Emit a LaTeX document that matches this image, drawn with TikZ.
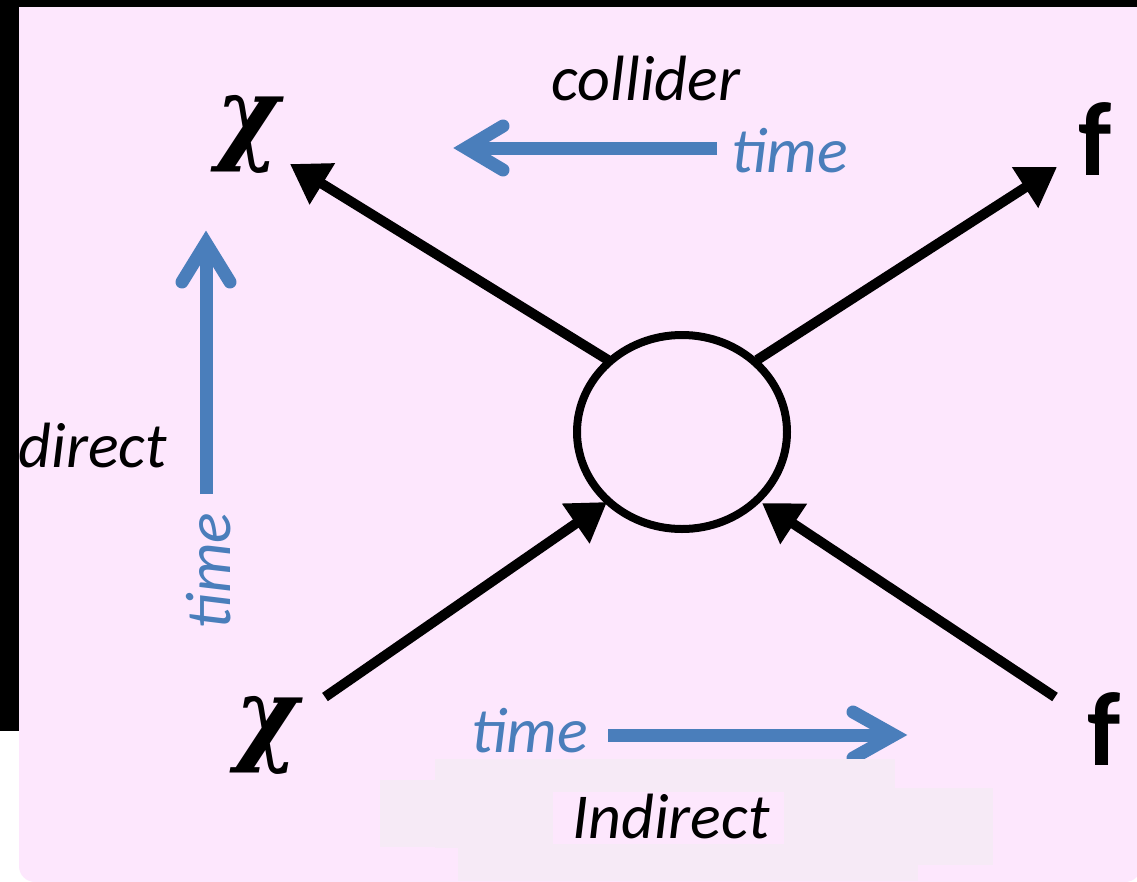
\documentclass[tikz,border=0pt]{standalone}
\usepackage{fontspec}
\setmainfont{Carlito}
\newfontfamily\chifont{DejaVu Serif}
\usepackage{graphicx}
\usetikzlibrary{arrows.meta,shapes.geometric}
\definecolor{pinkbg}{RGB}{253,231,253}
\definecolor{patchc}{RGB}{246,234,246}
\definecolor{timeblue}{RGB}{74,126,187}
\tikzset{
  lbl/.style={inner sep=0pt, font=\fontsize{64}{70}\selectfont\itshape},
  timelbl/.style={lbl, text=timeblue},
  chi/.style={inner sep=0pt},
  fermion/.style={inner sep=0pt, font=\fontsize{105}{110}\selectfont\bfseries},
  legline/.style={line width=10pt, -{Triangle[length=38pt,width=46pt]}},
  shaft/.style={draw=timeblue, line width=13pt},
  chev/.style={draw=timeblue, line width=13pt, line cap=round, line join=miter}
}
\newcommand{\bigchi}{\resizebox*{63pt}{78pt}{\chifont\bfseries\itshape χ}}
\begin{document}
\begin{tikzpicture}[x=1pt,y=-1pt]
\useasboundingbox (0,0) rectangle (1137,881);
\clip (0,0) rectangle (1137,881);
% background
\fill[white] (0,0) rectangle (1137,881);
\fill[black] (0,0) rectangle (1137,731);
\fill[pinkbg] (19,7) -- (19,866) arc[start angle=180,end angle=90,radius=16]
  -- (1125,882) arc[start angle=90,end angle=0,radius=16] -- (1141,7) -- cycle;

% central blob
\node[draw, ellipse, line width=8pt, minimum width=210pt, minimum height=194pt, inner sep=0pt] (blob) at (682,432) {};

% legs
\coordinate (ulS) at (608,360);  \coordinate (ulT) at (290,164);
\coordinate (urS) at (757,360);  \coordinate (urT) at (1057,167);
\coordinate (llS) at (325,697);  \coordinate (llT) at (607,502);
\coordinate (lrS) at (1055,697); \coordinate (lrT) at (762,503);
\draw[legline] (ulS) -- (ulT);
\draw[legline] (urS) -- (urT);
\draw[legline] (llS) -- (llT);
\draw[legline] (lrS) -- (lrT);

% particle labels
\node[chi, anchor=north west] (chiT) at (216,95) {\bigchi};
\node[chi, anchor=north west] (chiB) at (235,696) {\bigchi};
\node[fermion, anchor=base] (fT) at (1095,175) {f};
\node[fermion, anchor=base] (fB) at (1104,765) {f};

% collider time arrow
\coordinate (cS) at (717,148); \coordinate (cV) at (466,148);
\coordinate (cW1) at (503,126); \coordinate (cW2) at (503,170);
\draw[shaft] (cS) -- (cV);
\draw[chev] (cW1) -- (cV) -- (cW2);
\node[lbl, anchor=base] (collider) at (646,100) {collider};
\node[timelbl, anchor=base west] (tC) at (731,172) {time};

% direct time arrow
\coordinate (dS) at (206,494); \coordinate (dV) at (206,243);
\coordinate (dW1) at (182,282); \coordinate (dW2) at (230,282);
\draw[shaft] (dS) -- (dV);
\draw[chev] (dW1) -- (dV) -- (dW2);
\node[timelbl, anchor=base, rotate=90] (tD) at (230,571) {time};
\node[lbl, anchor=base east] (direct) at (167,467) {direct};

% indirect time arrow
\coordinate (iS) at (608,735); \coordinate (iV) at (894,735);
\coordinate (iW1) at (853,712); \coordinate (iW2) at (853,758);
\draw[shaft] (iS) -- (iV);
\draw[chev] (iW1) -- (iV) -- (iW2);
\node[timelbl, anchor=base west] (tI) at (471,752) {time};

% faint patches
\fill[patchc] (435,759) rectangle (895,848);
\fill[patchc] (380,780) rectangle (435,847);
\fill[patchc] (895,788) rectangle (993,865);
\fill[patchc] (458,848) rectangle (918,881);
\fill[pinkbg] (553,792) rectangle (784,844);
\node[lbl, anchor=base] (indirect) at (671,838) {Indirect};
\end{tikzpicture}
\end{document}
